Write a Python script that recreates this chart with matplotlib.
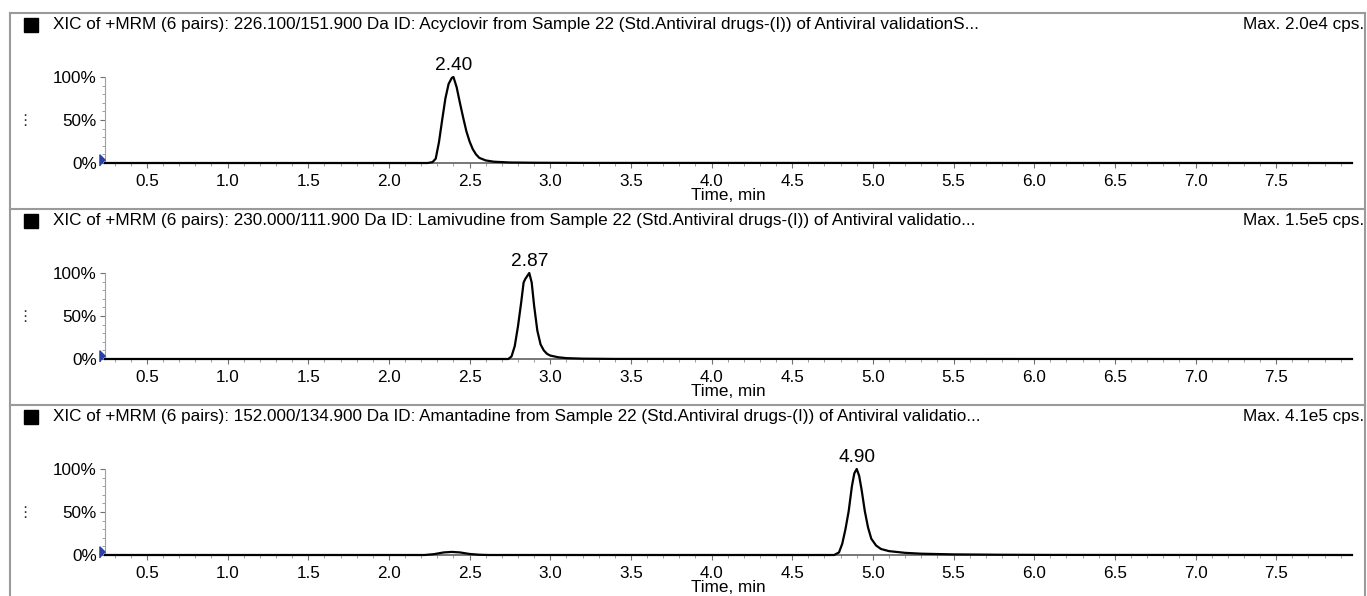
import numpy as np
import matplotlib
matplotlib.use("Agg")
import matplotlib.pyplot as plt
from matplotlib.lines import Line2D
from matplotlib.ticker import MultipleLocator

plt.rcParams['font.family'] = ['Liberation Sans', 'DejaVu Sans']

# --- data (time in min, intensity in %) ---
titles = [
    "XIC of +MRM (6 pairs): 226.100/151.900 Da ID: Acyclovir from Sample 22 (Std.Antiviral drugs-(I)) of Antiviral validationS...",
    "XIC of +MRM (6 pairs): 230.000/111.900 Da ID: Lamivudine from Sample 22 (Std.Antiviral drugs-(I)) of Antiviral validatio...",
    "XIC of +MRM (6 pairs): 152.000/134.900 Da ID: Amantadine from Sample 22 (Std.Antiviral drugs-(I)) of Antiviral validatio...",
]
max_labels = ["Max. 2.0e4 cps.", "Max. 1.5e5 cps.", "Max. 4.1e5 cps."]
peak_rt = [2.40, 2.87, 4.90]
peak_labels = ["2.40", "2.87", "4.90"]

t_acyclovir = [0.24, 2.24, 2.27, 2.29, 2.31, 2.33, 2.35, 2.37, 2.39, 2.40, 2.42, 2.44,
               2.46, 2.48, 2.50, 2.52, 2.54, 2.56, 2.60, 2.65, 2.75, 2.90, 3.20, 7.97]
i_acyclovir = [0, 0, 1, 5, 24, 50, 75, 92, 99, 100, 88, 70,
               53, 37, 25, 16, 10, 6, 3, 1.5, 0.6, 0.3, 0.1, 0]

t_lamivudine = [0.24, 2.74, 2.76, 2.78, 2.80, 2.82, 2.835, 2.845, 2.87, 2.885, 2.90,
                2.92, 2.94, 2.96, 2.98, 3.00, 3.05, 3.10, 3.20, 3.40, 7.97]
i_lamivudine = [0, 0, 3, 15, 38, 66, 89, 93, 100, 89, 62,
                33, 17, 10, 6, 4, 2, 1, 0.4, 0.1, 0]

t_amantadine = [0.24, 2.22, 2.28, 2.34, 2.39, 2.44, 2.50, 2.56, 2.62, 4.76, 4.79, 4.81,
                4.83, 4.85, 4.87, 4.885, 4.90, 4.915, 4.93, 4.95, 4.97, 4.99, 5.02,
                5.05, 5.10, 5.20, 5.30, 5.50, 5.80, 6.10, 7.97]
i_amantadine = [0, 0, 1, 3, 3.6, 3, 1.2, 0.3, 0, 0, 3, 13,
                30, 51, 80, 95, 100, 92, 76, 51, 32, 19, 11,
                7, 4.5, 2.5, 1.5, 0.7, 0.3, 0.1, 0]

traces = [(t_acyclovir, i_acyclovir), (t_lamivudine, i_lamivudine), (t_amantadine, i_amantadine)]
x_range = (0.24, 7.97)

W, H = 1367, 596
fig = plt.figure(figsize=(W / 100, H / 100), dpi=100)

frame_col = '#9a9a9a'
axis_col = '#606060'
step = 196

def fx(px):
    return px / W

def fy(py):
    return 1 - py / H

# outer frame + separators
fig.add_artist(Line2D([fx(10), fx(10)], [fy(13), 0], color=frame_col, lw=1.5))
fig.add_artist(Line2D([fx(1365), fx(1365)], [fy(13), 0], color=frame_col, lw=1.5))
for k in range(3):
    fig.add_artist(Line2D([fx(10), fx(1365)], [fy(13 + step * k)] * 2, color=frame_col, lw=1.5))

tri = [(-1, -1), (-1, 1), (0, 0)]

for k in range(3):
    y100 = 77 + step * k
    y0 = 163 + step * k
    ax = fig.add_axes([fx(105), fy(y0), fx(1352) - fx(105), (y0 - y100) / H])
    t, inten = traces[k]
    ax.plot(t, inten, color='black', lw=1.6, clip_on=False, zorder=3)
    ax.set_xlim(*x_range)
    ax.set_ylim(0, 100)

    for s in ['top', 'right']:
        ax.spines[s].set_visible(False)
    ax.spines['left'].set_color('#a0a0a0')
    ax.spines['bottom'].set_color(axis_col)
    ax.spines['bottom'].set_linewidth(1.2)

    ax.set_xticks(np.arange(0.5, 8.0, 0.5))
    ax.set_xticklabels(["%.1f" % v for v in np.arange(0.5, 8.0, 0.5)])
    ax.xaxis.set_minor_locator(MultipleLocator(0.1))
    ax.set_yticks([0, 50, 100])
    ax.set_yticklabels(["0%", "50%", "100%"])
    ax.yaxis.set_minor_locator(MultipleLocator(10))
    ax.tick_params(which='major', length=3.5, width=0.8, color='#707070', labelsize=12.3)
    ax.tick_params(axis='x', which='major', pad=4.5)
    ax.tick_params(axis='y', which='major', pad=2.5)
    ax.tick_params(which='minor', length=2, width=0.6, color='#909090')
    ax.set_xlabel("Time, min", fontsize=12.3, labelpad=-1)

    # retention time label
    ax.annotate(peak_labels[k], (peak_rt[k], 100), xytext=(0, 2), textcoords='offset points',
                ha='center', va='bottom', fontsize=13.8, annotation_clip=False)

    # blue start marker
    ax.plot([x_range[0]], [4], marker=tri, markersize=8, color='#2b3fa6', clip_on=False,
            linestyle='none', zorder=4)

    # header row
    yt = fy(25 + step * k)
    fig.add_artist(Line2D([fx(31)], [yt], marker='s', markersize=9.5, color='black', linestyle='none'))
    fig.text(fx(53), yt, titles[k], ha='left', va='center', fontsize=12.3)
    fig.text(fx(1364), yt, max_labels[k], ha='right', va='center', fontsize=12.3)
    fig.text(fx(25), fy(121 + step * k), '⋮', ha='center', va='center', fontsize=11,
             family='DejaVu Sans', color='#333333')

fig.savefig('out.png', dpi=100)
